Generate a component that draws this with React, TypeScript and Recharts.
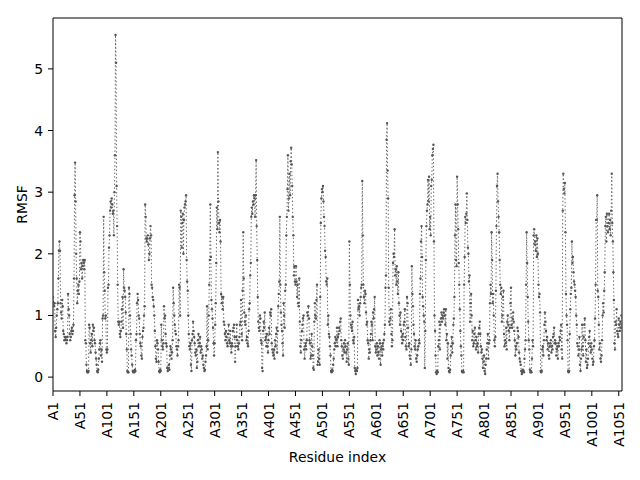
import React from 'react';
import { LineChart, Line, XAxis, YAxis, Label, ReferenceLine } from 'recharts';

// RMSF per residue in blocks of 50 residues
const block01 = [1.3,1.2,1.15,1.2,0.75,0.65,0.8,1.0,1.1,1.2,
 1.6,2.05,2.2,2.05,1.2,1.05,0.95,1.25,1.15,0.75,
 0.7,0.6,0.65,0.6,0.65,0.55,0.6,0.65,1.35,1.1,
 1.0,0.7,0.6,0.65,0.75,0.8,0.7,0.75,0.85,1.6,
 2.95,3.48,2.85,2.0,1.6,1.2,1.4,1.5,1.35,1.55];
const block02 = [2.35,2.2,1.75,1.85,1.6,1.8,1.9,1.85,1.75,1.9,
 0.6,0.55,0.2,0.1,0.08,0.08,0.1,0.85,0.8,0.55,
 0.4,0.6,0.7,0.5,0.85,0.75,0.8,0.6,0.55,0.4,
 0.3,0.2,0.1,0.08,0.12,0.3,0.45,0.55,0.6,0.35,
 0.45,0.25,0.95,1.0,2.6,1.7,1.4,0.95,1.0,0.45];
const block03 = [0.4,0.45,1.45,1.5,2.1,2.3,2.7,2.85,2.75,2.9,
 2.8,2.65,2.7,2.3,3.0,3.6,5.55,5.1,3.1,2.45,
 1.5,0.9,0.85,0.9,0.7,0.65,0.75,0.9,1.1,1.3,
 0.8,1.75,1.45,1.4,1.3,1.05,0.7,0.45,0.1,0.08,
 0.08,1.45,1.35,1.0,0.7,0.45,0.35,0.2,0.1,0.08];
const block04 = [0.1,0.08,0.12,0.1,0.6,0.7,1.2,1.35,1.25,1.0,
 0.95,0.7,0.55,0.5,0.35,0.3,0.65,0.75,0.8,1.0,
 1.15,2.8,2.6,2.25,2.2,2.25,2.3,2.15,1.9,2.0,
 2.25,2.45,2.3,1.5,1.45,1.3,1.25,1.15,1.0,0.75,
 0.5,0.3,0.25,0.6,0.55,0.45,0.25,0.1,0.08,0.12];
const block05 = [0.1,0.85,0.6,0.5,0.45,0.55,1.15,0.95,1.0,0.7,
 0.55,0.5,0.15,0.1,0.15,0.2,0.12,0.35,0.5,0.45,
 0.3,0.4,0.6,1.45,1.2,1.0,0.85,0.75,0.7,0.5,
 0.45,0.35,0.5,0.6,1.5,1.45,1.0,2.7,2.6,2.1,
 2.5,2.65,2.0,2.55,2.75,2.8,2.85,2.95,1.9,1.55];
const block06 = [1.4,1.0,0.7,0.5,0.45,0.55,0.2,0.1,0.6,0.7,
 0.9,0.75,0.65,0.55,0.4,0.35,0.45,0.15,0.25,0.6,
 0.7,0.5,0.55,0.65,0.4,0.5,0.45,0.3,0.35,0.2,
 0.15,0.1,0.12,0.25,0.35,0.5,1.15,0.45,0.6,1.0,
 1.5,1.9,2.8,1.95,1.25,1.1,0.95,0.8,0.55,0.35];
const block07 = [0.55,0.85,1.2,1.85,2.75,2.4,3.65,2.85,2.5,2.35,
 2.55,2.2,1.35,1.2,1.3,1.1,1.3,0.9,0.85,0.7,
 0.6,0.75,0.65,0.55,0.5,0.7,0.85,0.6,0.55,0.75,
 0.5,0.4,0.55,0.5,0.75,0.8,0.85,0.65,0.25,0.5,
 0.65,0.85,0.6,0.5,0.45,0.55,0.65,0.85,0.9,1.25];
const block08 = [0.7,0.6,1.4,2.35,1.6,1.05,0.9,0.85,1.0,0.6,
 0.65,0.55,0.5,0.75,1.1,1.2,1.65,1.85,2.6,2.75,
 2.65,2.85,2.8,2.95,2.9,2.6,2.95,3.52,2.45,1.9,
 1.3,0.9,0.8,0.75,1.0,0.95,0.6,0.55,0.15,0.1,
 0.75,0.9,0.8,1.05,0.6,0.65,0.5,0.7,0.5,0.4];
const block09 = [0.6,0.8,0.7,1.05,1.0,1.1,0.55,0.45,0.4,0.35,
 0.45,0.3,0.6,0.5,0.7,0.8,0.4,0.75,1.15,1.35,
 1.55,2.6,1.5,1.05,0.85,0.75,0.55,0.35,1.2,1.0,
 0.8,1.4,1.5,2.3,2.6,3.05,3.6,2.7,2.9,3.3,
 2.95,3.5,3.72,3.45,3.1,2.6,2.3,1.65,1.8,1.55];
const block10 = [1.5,1.8,1.55,1.3,1.5,1.2,1.15,1.6,0.9,0.5,
 0.4,0.6,0.75,0.85,0.95,1.0,0.45,0.3,0.5,0.55,
 0.45,0.6,1.05,1.0,1.15,0.95,0.6,0.55,0.3,0.35,
 0.7,0.5,0.35,0.15,0.12,0.9,1.2,1.0,0.95,1.25,
 1.5,0.2,0.25,0.45,0.3,0.2,1.3,2.5,2.9,3.05];
const block11 = [3.0,3.1,2.85,2.6,2.45,2.05,1.95,1.55,1.5,1.6,
 0.85,1.0,0.7,0.65,0.5,0.35,0.1,0.08,0.12,0.1,
 0.2,0.3,0.45,0.55,0.65,0.5,0.6,0.8,0.5,0.65,
 0.7,0.8,0.75,0.9,0.95,0.6,0.5,0.35,0.3,0.45,
 0.55,0.4,0.6,0.5,0.4,0.25,0.45,0.55,0.3,0.2];
const block12 = [2.2,1.5,1.0,0.85,0.8,0.75,0.9,0.6,0.55,0.65,
 0.15,0.1,0.05,0.12,0.1,0.15,1.25,1.1,1.15,1.0,
 1.2,1.3,1.45,1.5,3.18,2.3,1.5,1.3,1.2,1.4,
 1.35,1.05,0.85,0.9,0.6,0.55,0.3,0.45,0.4,0.6,
 0.7,0.9,0.85,0.6,1.05,0.95,1.1,1.3,0.5,0.4];
const block13 = [0.45,0.55,0.35,0.5,0.4,0.3,0.6,0.55,0.2,0.45,
 0.5,0.35,0.55,0.45,0.6,0.7,0.85,1.45,1.65,3.85,
 4.12,3.35,2.9,1.45,0.9,0.85,0.95,1.1,0.7,0.5,
 0.6,1.85,2.0,1.95,2.4,1.65,1.75,1.5,1.8,1.55,
 1.35,1.7,1.2,1.0,0.85,1.05,0.75,0.65,0.55,0.7];
const block14 = [0.6,0.85,0.9,1.1,0.65,0.5,0.45,1.3,1.2,0.8,
 0.5,0.55,0.35,0.3,0.2,0.45,1.8,1.35,1.15,0.85,
 0.7,0.5,0.45,0.6,0.3,0.25,0.35,0.45,0.5,0.6,
 0.55,1.35,1.6,2.2,2.45,1.95,1.3,1.15,1.0,0.9,
 0.15,0.75,1.9,2.45,2.7,2.8,3.2,2.85,3.25,2.4];
const block15 = [2.6,2.3,3.1,3.2,3.6,3.7,3.77,2.2,1.0,0.75,
 0.35,0.08,0.05,0.1,0.08,0.5,0.6,0.9,0.45,0.85,
 0.95,1.05,0.9,1.0,0.95,1.05,1.1,1.0,0.85,1.1,
 0.6,0.7,0.3,0.55,0.15,0.1,0.08,0.12,0.35,0.5,
 0.65,0.4,0.55,0.85,0.95,1.3,2.3,2.8,1.9,1.8];
const block16 = [3.25,2.8,2.4,1.85,1.5,1.1,0.75,0.5,0.35,0.1,
 0.08,0.1,0.08,1.5,1.95,2.6,2.5,2.65,2.98,2.55,
 2.1,2.0,1.55,1.65,0.9,1.2,1.35,1.0,0.6,0.75,
 0.5,0.55,0.7,0.8,0.6,0.45,0.65,0.5,0.55,0.4,
 0.7,0.8,0.9,0.7,0.5,0.4,0.45,0.3,0.15,0.25];
const block17 = [0.35,0.1,0.05,0.2,0.3,0.45,0.55,0.7,0.3,0.55,
 0.6,1.2,1.5,1.35,2.35,1.9,1.2,1.35,1.0,0.6,
 0.5,0.65,1.4,2.45,3.1,3.3,2.85,2.6,2.35,1.9,
 1.5,1.35,1.45,0.9,1.0,1.3,1.4,0.7,0.5,0.6,
 0.55,0.8,0.45,0.9,1.0,0.85,0.75,0.6,0.8,1.2];
const block18 = [1.45,0.85,0.8,0.95,1.05,0.9,0.75,0.6,0.35,0.5,
 0.45,0.55,0.8,0.75,0.65,0.4,0.3,0.25,0.2,0.1,
 0.05,0.08,0.12,0.1,0.08,0.3,0.45,0.6,1.5,2.35,
 1.85,1.3,0.9,0.6,0.45,0.12,0.08,0.1,0.08,0.3,
 0.6,0.5,2.3,2.4,2.15,2.2,2.05,2.3,1.95,2.25];
const block19 = [2.0,1.5,1.3,1.35,1.05,0.1,0.08,0.1,0.45,0.5,
 0.35,0.6,0.85,1.05,0.9,0.75,0.6,0.65,0.45,0.55,
 0.35,0.3,0.5,0.55,0.6,0.4,0.5,0.45,0.65,0.7,
 0.8,0.55,0.6,0.55,0.35,0.45,0.5,0.3,0.55,0.5,
 0.65,0.6,0.75,0.85,0.45,0.3,2.7,3.3,3.05,2.98];
const block20 = [3.15,2.35,1.35,1.0,0.85,0.6,0.1,0.08,0.1,0.7,
 1.1,1.35,1.45,2.2,1.85,1.95,1.7,1.55,1.5,1.4,
 1.3,1.0,0.85,0.55,0.5,0.35,0.45,0.65,0.2,0.1,
 0.3,0.45,0.85,0.5,0.35,0.65,0.85,0.95,0.6,0.25,
 0.45,0.15,0.2,0.3,0.55,0.65,0.75,0.5,0.4,0.55];
const block21 = [0.45,0.3,0.2,0.25,0.5,0.6,0.95,1.5,2.55,2.55,
 2.95,1.4,1.3,0.85,0.45,0.55,0.3,0.25,0.35,0.6,
 1.0,1.2,1.05,1.4,1.7,2.45,2.6,2.2,2.65,2.45,
 2.35,2.5,2.65,2.4,2.55,2.3,2.7,3.3,2.5,2.2,
 1.7,1.25,0.55,0.45,0.9,0.85,1.1,0.75,0.7,0.65,
 0.95,0.85,0.75,0.9,0.8,1.0,0.85];

const rmsfValues = [
  ...block01, ...block02, ...block03, ...block04, ...block05, ...block06, ...block07,
  ...block08, ...block09, ...block10, ...block11, ...block12, ...block13, ...block14,
  ...block15, ...block16, ...block17, ...block18, ...block19, ...block20, ...block21,
];
const firstResidue = 1;

const xTickResidues = [1, 51, 101, 151, 201, 251, 301, 351, 401, 451, 501, 551, 601, 651, 701, 751, 801, 851, 901, 951, 1001, 1051];
const xTickLabels = ['A1', 'A51', 'A101', 'A151', 'A201', 'A251', 'A301', 'A351', 'A401', 'A451', 'A501', 'A551', 'A601', 'A651', 'A701', 'A751', 'A801', 'A851', 'A901', 'A951', 'A1001', 'A1051'];
const yTicks = [0, 1, 2, 3, 4, 5];
const yDomain = [-0.225, 5.825];

const data = rmsfValues.map((v, i) => ({ residue: firstResidue + i, rmsf: v }));
const lastResidue = firstResidue + rmsfValues.length - 1;

const FONT = '"DejaVu Sans", sans-serif';
const FS = 13.9;

function XTick(props: any) {
  const { x, y, payload } = props;
  const idx = xTickResidues.indexOf(payload.value);
  return (
    <text
      x={x}
      y={y}
      transform={`rotate(-90, ${x}, ${y})`}
      textAnchor="end"
      dy="0.36em"
      fontFamily={FONT}
      fontSize={FS}
      fill="#000"
    >
      {idx >= 0 ? xTickLabels[idx] : ''}
    </text>
  );
}

function YTick(props: any) {
  const { x, y, payload } = props;
  return (
    <text x={x} y={y} textAnchor="end" dy="0.36em" fontFamily={FONT} fontSize={FS} fill="#000">
      {payload.value}
    </text>
  );
}

export default function App() {
  return (
    <div style={{ position: 'absolute', left: 0, top: 0, width: 640, height: 480, background: '#fff' }}>
      <LineChart width={640} height={480} data={data} margin={{ top: 18, right: 18, bottom: 0, left: 0 }}>
        <XAxis
          dataKey="residue"
          type="number"
          domain={[firstResidue, lastResidue]}
          ticks={xTickResidues}
          interval={0}
          height={89}
          tickSize={5}
          tickMargin={6}
          tick={<XTick />}
          stroke="#000"
          axisLine={{ stroke: '#000', strokeWidth: 1 }}
          tickLine={{ stroke: '#000', strokeWidth: 1 }}
          allowDataOverflow
        >
          <Label
            content={(p: any) => {
              const vb = p.viewBox || {};
              const cx = vb.x + vb.width / 2;
              return (
                <text x={cx} y={vb.y + 66} textAnchor="middle" dominantBaseline="central" fontFamily={FONT} fontSize={FS} fill="#000">
                  Residue index
                </text>
              );
            }}
          />
        </XAxis>
        <YAxis
          type="number"
          domain={yDomain}
          ticks={yTicks}
          interval={0}
          width={53}
          tickSize={5}
          tickMargin={5}
          tick={<YTick />}
          axisLine={{ stroke: '#000', strokeWidth: 1 }}
          tickLine={{ stroke: '#000', strokeWidth: 1 }}
          allowDataOverflow
        >
          <Label
            content={(p: any) => {
              const vb = p.viewBox || {};
              const cx = vb.x + 22;
              const cy = vb.y + vb.height / 2;
              return (
                <text x={cx} y={cy} transform={`rotate(-90, ${cx}, ${cy})`} textAnchor="middle" dominantBaseline="central" fontFamily={FONT} fontSize={FS} fill="#000">
                  RMSF
                </text>
              );
            }}
          />
        </YAxis>
        <ReferenceLine y={yDomain[1]} stroke="#000" strokeWidth={1} ifOverflow="extendDomain" />
        <ReferenceLine x={lastResidue} stroke="#000" strokeWidth={1} ifOverflow="extendDomain" />
        <Line
          type="linear"
          dataKey="rmsf"
          stroke="#666"
          strokeWidth={1}
          strokeDasharray="1.4 2.3"
          dot={{ r: 1.2, fill: '#555', stroke: 'none', strokeWidth: 0 }}
          activeDot={false}
          isAnimationActive={false}
        />
      </LineChart>
    </div>
  );
}
